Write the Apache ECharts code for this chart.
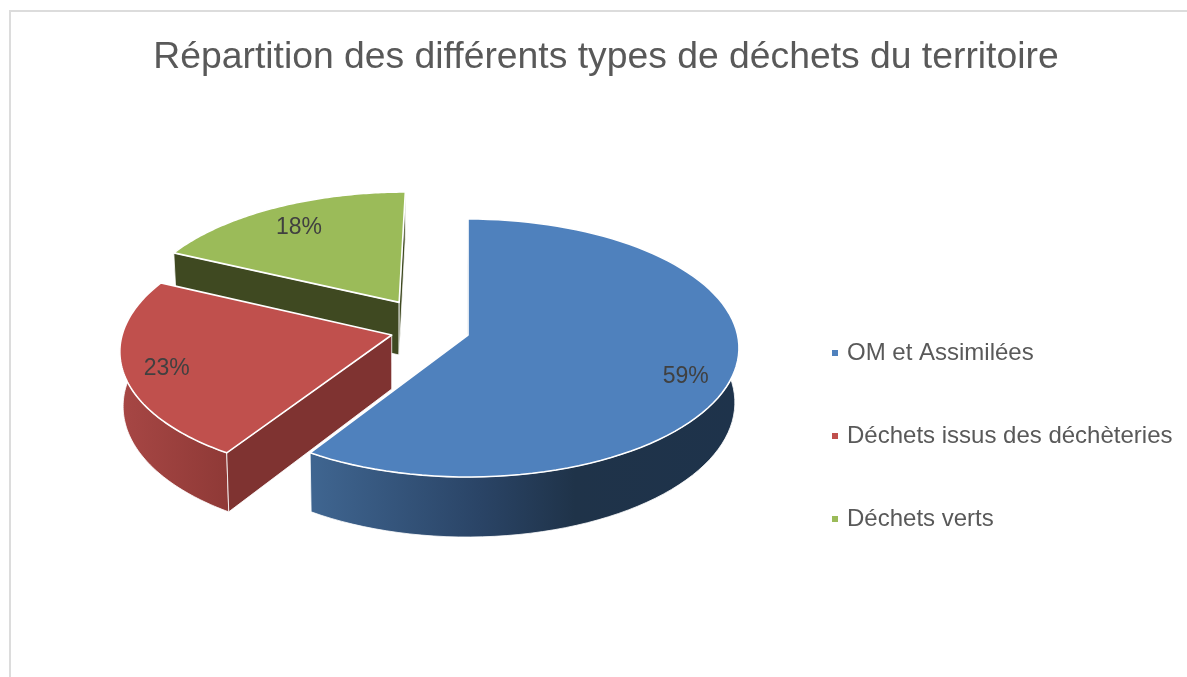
<!DOCTYPE html>
<html><head><meta charset="utf-8">
<style>html,body{margin:0;padding:0;background:#fff}#c{width:1187px;height:677px}</style>
<script src="https://cdn.jsdelivr.net/npm/echarts@6/dist/echarts.min.js"></script>
</head><body><div id="c"></div>
<script>
const titleText = 'Répartition des différents types de déchets du territoire';
const categories = ['OM et Assimilées', 'Déchets issus des déchèteries', 'Déchets verts'];
const shares = [59, 23, 18];

// look of the tilted disc
const colors = ['#4f81bd', '#c0504d', '#9bbb59'];
const cutColors = ['#1e334c', '#7f3331', '#3f4921'];
const wallStops = [
  [[313, '#3f6590'], [480, '#2a4466'], [575, '#1f3349'], [739, '#1e334b']],
  [[125, '#a64644'], [232, '#8e3936']],
  [[175, '#3f4921'], [402, '#3f4921']]
];
const explodeX = [0, -0.283, -0.262];
const explodeY = [0, 0, 0.262];
const showStartCut = [true, true, true];
const showEndCut = [false, false, true];
const labelRadius = [0.84, 0.843, 0.79];
const labelTurn = [5, -0.6, 0];
const CX = 468, CY = 335, A = 269.6, B = 127.7, P = 0.1007, DEPTH = 54, VX = 395, SHRINK = 0.988;
const FONT = '"Liberation Sans", Arial, sans-serif';

const total = shares.reduce((a, b) => a + b, 0);
function project(X, Y) {
  const s = 1 / (1 + P * Y);
  const x = CX + A * X * s, y = CY - B * Y * s;
  return { top: [x, y], bottom: [VX + (x - VX) * SHRINK, y + DEPTH * s] };
}
function renderSlice(i, params, api) {
  const value = api.value(0);
  let before = 0;
  for (let k = 0; k < i; k++) before += shares[k];
  const a0 = before / total * 2 * Math.PI, a1 = a0 + value / total * 2 * Math.PI;
  const ox = explodeX[i], oy = explodeY[i];
  const onRim = a => project(ox + Math.sin(a), oy + Math.cos(a));
  const apex = project(ox, oy);
  const n = 90, rim = [];
  for (let k = 0; k <= n; k++) rim.push(onRim(a0 + (a1 - a0) * k / n));
  const topArc = rim.map(p => p.top), botArc = rim.map(p => p.bottom);
  const stops = wallStops[i];
  const x0 = stops[0][0], x1 = stops[stops.length - 1][0];
  const grad = new echarts.graphic.LinearGradient(x0, 0, x1, 0,
    stops.map(s => ({ offset: (s[0] - x0) / (x1 - x0), color: s[1] })), true);
  const poly = (points, style) => ({ type: 'polygon', shape: { points }, style });
  const first = rim[0], last = rim[n];
  const mid = (a0 + a1) / 2 + labelTurn[i] * Math.PI / 180;
  const lp = project(ox + labelRadius[i] * Math.sin(mid), oy + labelRadius[i] * Math.cos(mid)).top;
  const children = [poly(topArc.concat(botArc.slice().reverse()), { fill: grad, stroke: '#fff', lineWidth: 0.8 })];
  if (showStartCut[i]) children.push(poly([apex.top, first.top, first.bottom, apex.bottom], { fill: cutColors[i], stroke: '#fff', lineWidth: 0.8 }));
  if (showEndCut[i]) children.push(poly([apex.top, last.top, last.bottom, apex.bottom], { fill: cutColors[i], stroke: '#fff', lineWidth: 0.8 }));
  children.push(poly([apex.top].concat(topArc), { fill: colors[i], stroke: '#fff', lineWidth: 1.6, lineJoin: 'round' }));
  children.push({ type: 'text', x: lp[0], y: lp[1] + 1.5, style: {
    text: value + '%', fill: '#404040', font: '23px ' + FONT, textAlign: 'center', textVerticalAlign: 'middle' } });
  return { type: 'group', children };
}

const chart = echarts.init(document.getElementById('c'), null, { renderer: 'canvas' });
chart.setOption({
  animation: false,
  backgroundColor: '#fff',
  title: {
    text: titleText, left: 601, top: 34, textAlign: 'center',
    textStyle: { fontFamily: FONT, fontSize: 37.3, fontWeight: 'normal', color: '#595959' }
  },
  legend: {
    orient: 'vertical', left: 827, top: 336, itemWidth: 6, itemHeight: 6, itemGap: 59,
    icon: 'rect', selectedMode: false,
    data: categories.map((name, i) => ({ name, itemStyle: { color: colors[i] } })),
    textStyle: { fontFamily: FONT, fontSize: 24, color: '#595959', padding: [0, 0, 0, 4] }
  },
  graphic: [{
    type: 'polyline', silent: true,
    shape: { points: [[10, 677], [10, 11], [1187, 11]] },
    style: { fill: null, stroke: '#dcdcdc', lineWidth: 2 }
  }],
  series: categories.map((name, i) => ({
    type: 'custom', name, coordinateSystem: 'none', z: 3 - i,
    itemStyle: { color: colors[i] },
    data: [[shares[i]]],
    renderItem: (params, api) => renderSlice(i, params, api)
  }))
});
</script></body></html>
